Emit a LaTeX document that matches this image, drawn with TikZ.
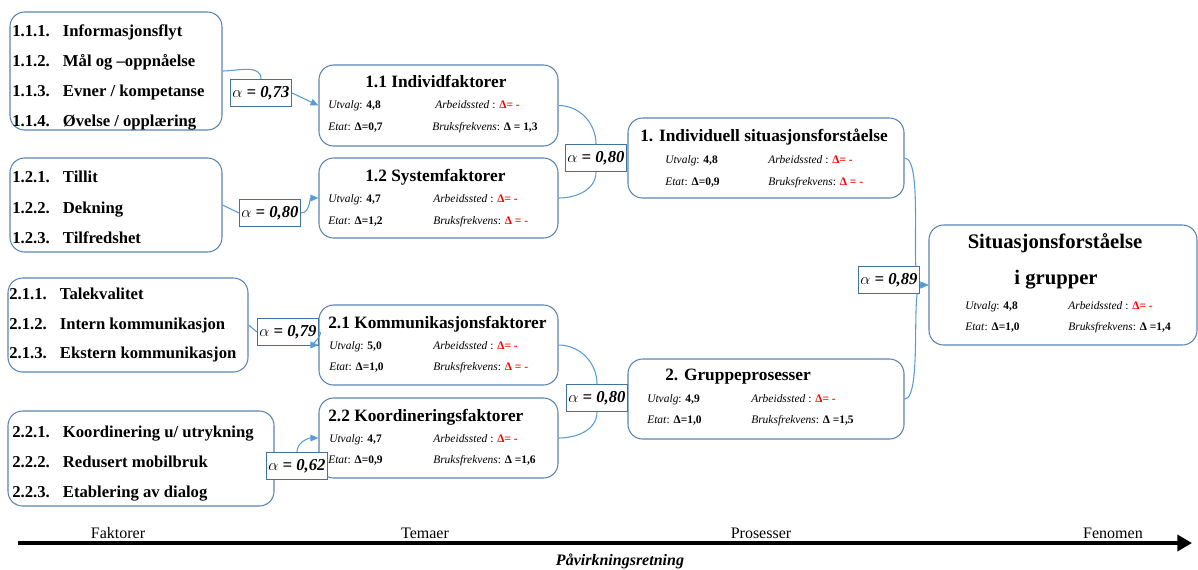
\documentclass[tikz,border=0pt]{standalone}
\usepackage{fontspec}
\setmainfont{Liberation Serif}
\usetikzlibrary{arrows.meta,fit}
\definecolor{boxblue}{HTML}{5A84B4}
\definecolor{alphablue}{HTML}{41719C}
\definecolor{linkblue}{HTML}{5B9BD5}
\newcommand{\redval}[1]{\textcolor{red}{\textbf{#1}}}
\newcommand{\itm}[2]{\makebox[38pt][l]{#1}#2}
\newcommand{\alf}[1]{\textbf{\textit{$\alpha$ = #1}}}

\begin{document}
\begin{tikzpicture}[x=0.75pt,y=-0.75pt]
\tikzstyle{every node}+=[inner sep=0pt]
\tikzstyle{itembox}=[draw=boxblue, line width=0.8pt, rounded corners=11pt]
\tikzstyle{item}=[anchor=base west, font=\fontsize{12.5}{14}\selectfont\bfseries]
\tikzstyle{title}=[anchor=base west, font=\fontsize{13}{15}\selectfont\bfseries]
\tikzstyle{info}=[anchor=base west, font=\fontsize{8.6}{10}\selectfont]
\tikzstyle{alfa}=[draw=alphablue, line width=0.8pt, fill=white, inner sep=1.5pt, minimum height=20pt, font=\fontsize{12.5}{14}\selectfont]
\tikzstyle{link}=[draw=linkblue, line width=0.8pt]
\tikzstyle{linkarrow}=[link, -{Triangle[length=6pt,width=5pt]}]
\useasboundingbox (0,0) rectangle (1198,569);

% faktorer
\node[itembox, fit={(10,12) (222,130)}] (f11) {};
\node[item] (f111) at (12,36) {\itm{1.1.1.}{Informasjonsflyt}};
\node[item] (f112) at (12,66) {\itm{1.1.2.}{Mål og –oppnåelse}};
\node[item] (f113) at (12,96) {\itm{1.1.3.}{Evner / kompetanse}};
\node[item] (f114) at (12,126) {\itm{1.1.4.}{Øvelse / opplæring}};

\node[itembox, fit={(10,158) (222,252)}] (f12) {};
\node[item] (f121) at (12,182) {\itm{1.2.1.}{Tillit}};
\node[item] (f122) at (12,213) {\itm{1.2.2.}{Dekning}};
\node[item] (f123) at (12,243) {\itm{1.2.3.}{Tilfredshet}};

\node[itembox, fit={(8,278) (248,372)}] (f21) {};
\node[item] (f211) at (9,299) {\itm{2.1.1.}{Talekvalitet}};
\node[item] (f212) at (9,329) {\itm{2.1.2.}{Intern kommunikasjon}};
\node[item] (f213) at (9,358) {\itm{2.1.3.}{Ekstern kommunikasjon}};

\node[itembox, fit={(8,411) (274,506)}] (f22) {};
\node[item] (f221) at (12,437) {\itm{2.2.1.}{Koordinering u/ utrykning}};
\node[item] (f222) at (12,467) {\itm{2.2.2.}{Redusert mobilbruk}};
\node[item] (f223) at (12,497) {\itm{2.2.3.}{Etablering av dialog}};

% temaer
\node[itembox, fit={(319,65) (558,146)}] (t11) {};
\node[title] (t11t) at (365,87) {1.1 Individfaktorer};
\node[info] (t11u) at (328,108) {\textit{Utvalg}: \textbf{4,8}};
\node[info] (t11a) at (435,108) {\textit{Arbeidssted} : \redval{Δ= -}};
\node[info] (t11e) at (328,130) {\textit{Etat}: \textbf{Δ=0,7}};
\node[info] (t11b) at (432,130) {\textit{Bruksfrekvens}: \textbf{Δ = 1,3}};

\node[itembox, fit={(319,158) (558,238)}] (t12) {};
\node[title] (t12t) at (365,181) {1.2 Systemfaktorer};
\node[info] (t12u) at (328,202) {\textit{Utvalg}: \textbf{4,7}};
\node[info] (t12a) at (433,202) {\textit{Arbeidssted} : \redval{Δ= -}};
\node[info] (t12e) at (328,224) {\textit{Etat}: \textbf{Δ=1,2}};
\node[info] (t12b) at (433,224) {\textit{Bruksfrekvens}: \redval{Δ = -}};

\node[itembox, fit={(319,305) (558,385)}] (t21) {};
\node[title] (t21t) at (328,328) {2.1 Kommunikasjonsfaktorer};
\node[info] (t21u) at (329,349) {\textit{Utvalg}: \textbf{5,0}};
\node[info] (t21a) at (433,349) {\textit{Arbeidssted} : \redval{Δ= -}};
\node[info] (t21e) at (329,370) {\textit{Etat}: \textbf{Δ=1,0}};
\node[info] (t21b) at (433,370) {\textit{Bruksfrekvens}: \redval{Δ = -}};

\node[itembox, fit={(319,398) (558,478)}] (t22) {};
\node[title] (t22t) at (328,421) {2.2 Koordineringsfaktorer};
\node[info] (t22u) at (329,442) {\textit{Utvalg}: \textbf{4,7}};
\node[info] (t22a) at (433,442) {\textit{Arbeidssted} : \redval{Δ= -}};
\node[info] (t22e) at (328,463) {\textit{Etat}: \textbf{Δ=0,9}};
\node[info] (t22b) at (433,463) {\textit{Bruksfrekvens}: \textbf{Δ =1,6}};

% prosesser
\node[itembox, fit={(628,118) (904,198)}] (p1) {};
\node[title] (p1t) at (640,141) {1. Individuell situasjonsforståelse};
\node[info] (p1u) at (665,163) {\textit{Utvalg}: \textbf{4,8}};
\node[info] (p1a) at (768,163) {\textit{Arbeidssted} : \redval{Δ= -}};
\node[info] (p1e) at (665,185) {\textit{Etat}: \textbf{Δ=0,9}};
\node[info] (p1b) at (768,185) {\textit{Bruksfrekvens}: \redval{Δ = -}};

\node[itembox, fit={(628,359) (904,439)}] (p2) {};
\node[title] (p2t) at (665,380) {2. Gruppeprosesser};
\node[info] (p2u) at (647,402) {\textit{Utvalg}: \textbf{4,9}};
\node[info] (p2a) at (751,402) {\textit{Arbeidssted} : \redval{Δ= -}};
\node[info] (p2e) at (647,423) {\textit{Etat}: \textbf{Δ=1,0}};
\node[info] (p2b) at (751,423) {\textit{Bruksfrekvens}: \textbf{Δ =1,5}};

% fenomen
\node[itembox, fit={(929,225) (1197,345)}] (fen) {};
\node[font=\fontsize{15.5}{18}\selectfont\bfseries] (fent1) at (1055,243) {Situasjonsforståelse};
\node[font=\fontsize{15.5}{18}\selectfont\bfseries] (fent2) at (1056,280) {i grupper};
\node[info] (fenu) at (965,309) {\textit{Utvalg}: \textbf{4,8}};
\node[info] (fena) at (1068,309) {\textit{Arbeidssted} : \redval{Δ= -}};
\node[info] (fene) at (965,330) {\textit{Etat}: \textbf{Δ=1,0}};
\node[info] (fenb) at (1068,330) {\textit{Bruksfrekvens}: \textbf{Δ =1,4}};

% alpha-verdier med koblinger
\node[alfa] (a1) at (261,93) {\alf{0,73}};
\node[alfa] (a2) at (270,213) {\alf{0,80}};
\node[alfa] (a3) at (288,332) {\alf{0,79}};
\node[alfa] (a4) at (297,466) {\alf{0,62}};
\node[alfa] (a5) at (596,158) {\alf{0,80}};
\node[alfa] (a6) at (597,398) {\alf{0,80}};
\draw [link] (f11.east) to[out=0,in=90] (a1.north);
\draw [linkarrow] (a1.east) -- (t11.west);
\draw [link] (f12.east) -- (a2.west);
\draw [linkarrow] (a2.east) to[out=0,in=180] (t12.west);
\draw [link] (f21.east) -- (a3.west);
\draw [linkarrow] (a3.east) to[out=0,in=180] (t21.west);
\draw [linkarrow] (a4.north) to[out=90,in=180] (t22.west);
\draw [link] (t11.east) to[out=0,in=90] (a5.north);
\draw [link] (t12.east) to[out=0,in=-90] (a5.south);
\draw [link] (t21.east) to[out=0,in=90] (a6.north);
\draw [link] (t22.east) to[out=0,in=-90] (a6.south);
\draw [linkarrow] (p1.east) to[out=0,in=180,looseness=0.4] (fen.west);
\draw [linkarrow] (p2.east) to[out=0,in=180,looseness=0.4] (fen.west);
\node[alfa] (a7) at (889,280) {\alf{0,89}};

% akse
\coordinate (ax0) at (18,543);
\coordinate (ax1) at (1192,543);
\draw [black, line width=3pt, -{Triangle[length=11pt,width=12pt]}] (ax0) -- (ax1);
\node[font=\fontsize{12}{14}\selectfont] (lf) at (118,533) {Faktorer};
\node[font=\fontsize{12}{14}\selectfont] (lt) at (425,533) {Temaer};
\node[font=\fontsize{12}{14}\selectfont] (lp) at (761,533) {Prosesser};
\node[font=\fontsize{12}{14}\selectfont] (lfe) at (1113,533) {Fenomen};
\node[font=\fontsize{12}{14}\selectfont\bfseries\itshape] (lr) at (620,561) {Påvirkningsretning};
\end{tikzpicture}
\end{document}
